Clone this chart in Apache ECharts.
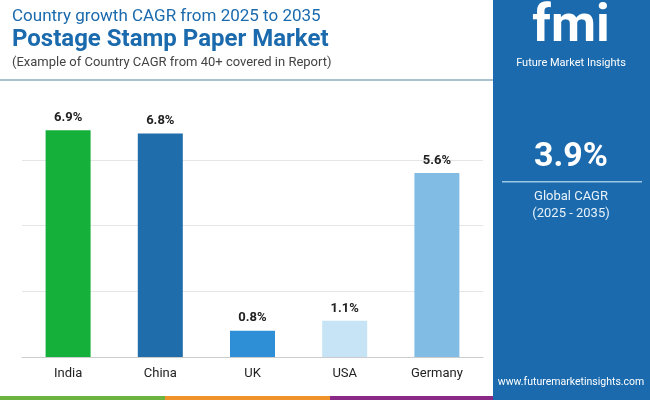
<!DOCTYPE html>
<html><head><meta charset="utf-8">
<script src="https://cdn.jsdelivr.net/npm/echarts@6/dist/echarts.min.js"></script>
<style>html,body{margin:0;padding:0;background:#fff}#c{width:650px;height:400px}</style>
</head><body><div id="c"></div>
<script>
const categories = ['India','China','UK','USA','Germany'];
const values = [6.9, 6.8, 0.8, 1.1, 5.6];
const colors = ['#14b03a','#1f6dab','#2e8ed6','#c6e4f5','#80bce4'];
const chart = echarts.init(document.getElementById('c'));
const F = 'Roboto, sans-serif';
chart.setOption({
  animation:false,
  grid:{left:22,right:167,top:94,bottom:43},
  xAxis:{type:'category',data:categories,axisTick:{show:false},
    axisLine:{lineStyle:{color:'#cccccc'}},
    axisLabel:{color:'#222',fontSize:13,fontFamily:F,margin:10}},
  yAxis:{type:'value',min:0,max:8,interval:2,axisLabel:{show:false},
    splitLine:{showMaxLine:false,lineStyle:{color:'#e6e6e6'}}},
  series:[{type:'bar',barWidth:45,
    data:values.map((v,i)=>({value:v,itemStyle:{color:colors[i]}})),
    label:{show:true,position:'top',formatter:p=>p.value.toFixed(1)+'%',
      fontSize:13,fontWeight:'bold',color:'#222',fontFamily:F,distance:6}}],
  graphic:[
    {type:'text',left:12,top:8,style:{text:'Country growth CAGR from 2025 to 2035',fill:'#1a6aad',font:'17px '+F}},
    {type:'text',left:12,top:28,style:{text:'Postage Stamp Paper Market',fill:'#1a6aad',font:'bold 24px '+F}},
    {type:'text',left:12,top:56,style:{text:'(Example of Country CAGR from 40+ covered in Report)',fill:'#444',font:'13px '+F}},
    {type:'rect',shape:{x:0,y:79,width:493,height:2},style:{fill:'#a9c2d2'}},
    {type:'rect',shape:{x:493,y:0,width:157,height:400},style:{fill:'#1a6aad'}},
    {type:'text',style:{x:571,y:2,text:'fmi',fill:'#fff',font:'bold 52px '+F,align:'center'}},
    {type:'text',style:{x:571,y:58,text:'Future Market Insights',fill:'#fff',font:'11px '+F,align:'center'}},
    {type:'text',style:{x:571,y:140,text:'3.9%',fill:'#fff',font:'bold 34px '+F,align:'center'}},
    {type:'rect',shape:{x:502,y:181,width:140,height:1.5},style:{fill:'#9cc6e6'}},
    {type:'text',style:{x:571,y:190,text:'Global CAGR',fill:'#e8f2fa',font:'13px '+F,align:'center'}},
    {type:'text',style:{x:571,y:207,text:'(2025 - 2035)',fill:'#e8f2fa',font:'13px '+F,align:'center'}},
    {type:'text',style:{x:571,y:377,text:'www.futuremarketinsights.com',fill:'#fff',font:'10.5px '+F,align:'center'}},
    {type:'rect',shape:{x:0,y:396,width:165,height:4},style:{fill:'#6cb33f'}},
    {type:'rect',shape:{x:165,y:396,width:165,height:4},style:{fill:'#f0922b'}},
    {type:'rect',shape:{x:330,y:396,width:163,height:4},style:{fill:'#8b2a86'}}
  ]
});
</script></body></html>
